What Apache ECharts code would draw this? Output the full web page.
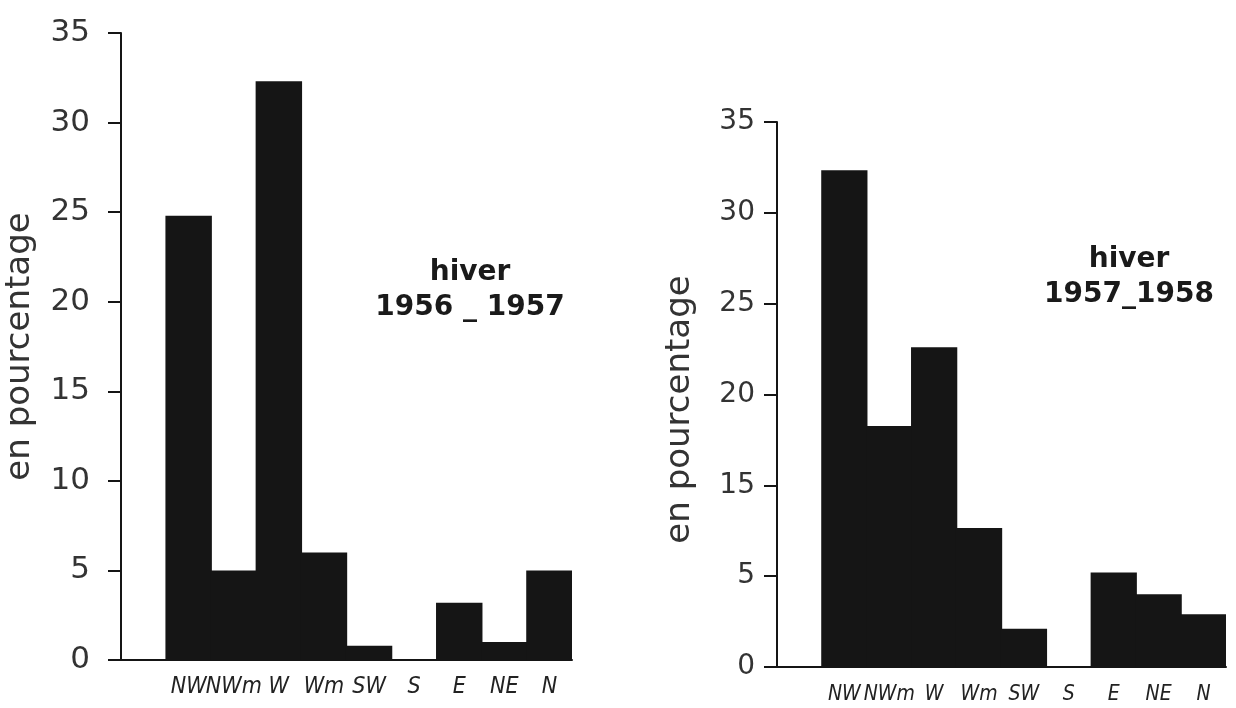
<!DOCTYPE html>
<html>
<head>
<meta charset="utf-8">
<script src="https://cdn.jsdelivr.net/npm/echarts@6/dist/echarts.min.js"></script>
<style>
html,body{margin:0;padding:0;background:#fff;}
#chart{width:1236px;height:708px;}
</style>
</head>
<body>
<div id="chart"></div>
<script>
// Wind-direction categories (same for both winters)
const categories = ['NW', 'NWm', 'W', 'Wm', 'SW', 'S', 'E', 'NE', 'N'];

// Winter 1956-1957 (percentages, read on the left axis)
const values1956 = [24.8, 5.0, 32.3, 6.0, 0.8, 0, 3.2, 1.0, 5.0];
const ticks1956 = ['0', '5', '10', '15', '20', '25', '30', '35'];

// Winter 1957-1958 (read in the drawn axis steps; the printed tick labels skip "10")
const values1957 = [27.35, 13.26, 17.6, 7.65, 2.1, 0, 5.2, 4.0, 2.9];
const ticks1957 = ['0', '5', '15', '20', '25', '30', '35'];

const title1 = 'hiver\n1956 _ 1957';
const title2 = 'hiver\n1957_1958';
const axisName = 'en pourcentage';

const ink = '#151515';
const labelFont = "'DejaVu Sans Condensed', 'Liberation Sans Narrow', 'Liberation Sans', sans-serif";
const numFont = "'DejaVu Sans', 'Liberation Sans', sans-serif";

const chart = echarts.init(document.getElementById('chart'));

function xAxisFor(gridIndex, fontSize, margin) {
  return {
    type: 'category',
    gridIndex: gridIndex,
    data: [''].concat(categories),
    boundaryGap: true,
    axisLine: { show: true, lineStyle: { color: ink, width: 2 } },
    axisTick: { show: false },
    axisLabel: {
      interval: 0,
      margin: margin,
      fontSize: fontSize,
      fontStyle: 'italic',
      fontFamily: labelFont,
      color: '#222'
    },
    splitLine: { show: false }
  };
}

chart.setOption({
  backgroundColor: '#fff',
  animation: false,
  title: [
    {
      text: title1,
      left: 465, top: 250, textAlign: 'center',
      textStyle: { fontSize: 28, fontWeight: 'bold', fontFamily: numFont, color: '#1a1a1a', lineHeight: 35 }
    },
    {
      text: title2,
      left: 1124, top: 237, textAlign: 'center',
      textStyle: { fontSize: 28, fontWeight: 'bold', fontFamily: numFont, color: '#1a1a1a', lineHeight: 35 }
    }
  ],
  grid: [
    { left: 121, top: 33, width: 451, height: 627 },
    { left: 777, top: 122, width: 449, height: 545 }
  ],
  xAxis: [ xAxisFor(0, 23, 16), xAxisFor(1, 21, 17) ],
  yAxis: [
    {
      type: 'value', gridIndex: 0, min: 0, max: 35, interval: 5,
      name: axisName, nameLocation: 'middle', nameRotate: 90, nameGap: 84,
      nameTextStyle: { fontSize: 34, fontFamily: numFont, color: '#333' },
      axisLine: { show: true, lineStyle: { color: ink, width: 2 } },
      axisTick: { show: true, length: 13, lineStyle: { color: ink, width: 2 } },
      axisLabel: {
        margin: 31, fontSize: 31, fontFamily: numFont, color: '#333',
        formatter: function (v) { return ticks1956[Math.round(v / 5)]; }
      },
      splitLine: { show: false }
    },
    {
      type: 'value', gridIndex: 1, min: 0, max: 30, interval: 5,
      name: axisName, nameLocation: 'middle', nameRotate: 90, nameGap: 80,
      nameTextStyle: { fontSize: 34, fontFamily: numFont, color: '#333', padding: [0, 30, 0, 0] },
      axisLine: { show: true, lineStyle: { color: ink, width: 2 } },
      axisTick: { show: true, length: 13, lineStyle: { color: ink, width: 2 } },
      axisLabel: {
        margin: 22, fontSize: 28, fontFamily: numFont, color: '#333',
        formatter: function (v) { return ticks1957[Math.round(v / 5)]; }
      },
      splitLine: { show: false }
    }
  ],
  series: [
    {
      type: 'bar', xAxisIndex: 0, yAxisIndex: 0,
      data: [null].concat(values1956),
      barWidth: '103%',
      itemStyle: { color: ink }
    },
    {
      type: 'bar', xAxisIndex: 1, yAxisIndex: 1,
      data: [null].concat(values1957),
      barWidth: '103%',
      itemStyle: { color: ink }
    }
  ]
});
</script>
</body>
</html>
